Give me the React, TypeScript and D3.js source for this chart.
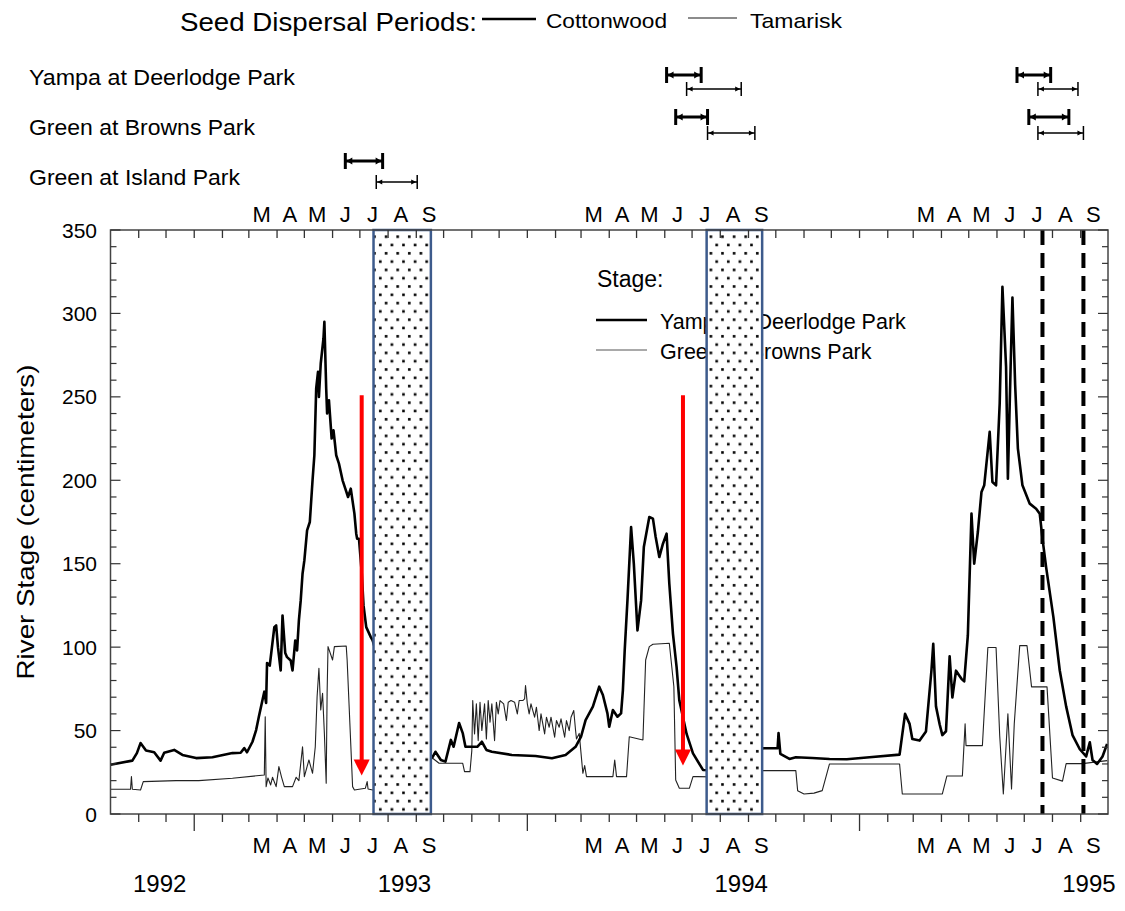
import * as d3 from 'd3';

// water years 1992-1994
const DOMAIN = ['1991-10-01', '1994-10-01'];

// Yampa River at Deerlodge Park stage (cm)
const YAMPA: [string, number][] = [
  ['1991-10-01', 29.5], ['1991-10-25', 32], ['1991-10-30', 36.5], ['1991-11-03', 42.5], ['1991-11-09', 38],
  ['1991-11-18', 37], ['1991-11-25', 32], ['1991-11-29', 36.7], ['1991-12-10', 38.4], ['1991-12-19', 35.4],
  ['1992-01-03', 33.5], ['1992-01-21', 34], ['1992-02-12', 36.5], ['1992-02-21', 36.7], ['1992-02-25', 39.5],
  ['1992-02-28', 37], ['1992-03-05', 43.3], ['1992-03-09', 50.3], ['1992-03-12', 58.3], ['1992-03-16', 68.3],
  ['1992-03-18', 73.3], ['1992-03-20', 66.5], ['1992-03-21', 90.5], ['1992-03-24', 89], ['1992-03-29', 112],
  ['1992-03-31', 113], ['1992-04-02', 100], ['1992-04-05', 86], ['1992-04-07', 119], ['1992-04-10', 96.5],
  ['1992-04-12', 94], ['1992-04-16', 92], ['1992-04-18', 86], ['1992-04-21', 104], ['1992-04-23', 98],
  ['1992-04-25', 116], ['1992-04-27', 128], ['1992-04-29', 144], ['1992-05-01', 152], ['1992-05-04', 170],
  ['1992-05-07', 175], ['1992-05-10', 200], ['1992-05-12', 215], ['1992-05-14', 255], ['1992-05-16', 265],
  ['1992-05-17', 250], ['1992-05-19', 270], ['1992-05-22', 285], ['1992-05-23', 295], ['1992-05-25', 255],
  ['1992-05-26', 240], ['1992-05-28', 248], ['1992-05-31', 225], ['1992-06-02', 230], ['1992-06-05', 215],
  ['1992-06-08', 210], ['1992-06-12', 200], ['1992-06-15', 195], ['1992-06-18', 190], ['1992-06-21', 195],
  ['1992-06-25', 180], ['1992-06-27', 168], ['1992-06-28', 165], ['1992-06-30', 165], ['1992-07-03', 145],
  ['1992-07-05', 125], ['1992-07-08', 112], ['1992-07-13', 106], ['1992-07-15', 104], ['1992-08-15', 45],
  ['1992-09-19', 34.3], ['1992-09-22', 37.3], ['1992-09-28', 32.4], ['1992-10-03', 31.4], ['1992-10-09', 44.4],
  ['1992-10-12', 40.3], ['1992-10-18', 54.5], ['1992-10-22', 48.5], ['1992-10-25', 40.3], ['1992-11-07', 40.3],
  ['1992-11-12', 43.3], ['1992-11-17', 38.4], ['1992-11-23', 37.3], ['1992-12-15', 35.4], ['1993-01-10', 34.8],
  ['1993-01-28', 33.4], ['1993-02-12', 35.4], ['1993-02-23', 40.3], ['1993-03-01', 46.3], ['1993-03-06', 56.3],
  ['1993-03-14', 64.3], ['1993-03-21', 76.3], ['1993-03-25', 71.3], ['1993-03-30', 60.3], ['1993-04-01', 52.3],
  ['1993-04-05', 62.3], ['1993-04-10', 58.3], ['1993-04-14', 60.3], ['1993-04-16', 74.3], ['1993-04-18', 98.3],
  ['1993-04-21', 128], ['1993-04-25', 172], ['1993-04-28', 150], ['1993-05-02', 110], ['1993-05-06', 128],
  ['1993-05-09', 160], ['1993-05-15', 178], ['1993-05-19', 177], ['1993-05-22', 166], ['1993-05-26', 154],
  ['1993-05-30', 162], ['1993-06-03', 168], ['1993-06-06', 138], ['1993-06-10', 108], ['1993-06-14', 88],
  ['1993-06-17', 68], ['1993-06-25', 48], ['1993-07-02', 36.3], ['1993-07-13', 26.4], ['1993-08-15', 26],
  ['1993-09-17', 39.4], ['1993-10-03', 39.4], ['1993-10-04', 48.5], ['1993-10-06', 36], ['1993-10-16', 33],
  ['1993-10-23', 34], ['1993-11-10', 33.6], ['1993-11-29', 33], ['1993-12-18', 32.8], ['1994-01-12', 34],
  ['1994-02-14', 35.6], ['1994-02-20', 60], ['1994-02-25', 54], ['1994-02-28', 45], ['1994-03-08', 44],
  ['1994-03-15', 49.5], ['1994-03-21', 86], ['1994-03-23', 102], ['1994-03-26', 64.5], ['1994-03-30', 53.8],
  ['1994-04-02', 47.3], ['1994-04-06', 49.6], ['1994-04-10', 94.5], ['1994-04-13', 69.8], ['1994-04-17', 85.9],
  ['1994-04-23', 81], ['1994-04-26', 79.5], ['1994-04-30', 107], ['1994-05-04', 180], ['1994-05-07', 150],
  ['1994-05-11', 169], ['1994-05-15', 193], ['1994-05-18', 197], ['1994-05-24', 229], ['1994-05-27', 199],
  ['1994-05-31', 197], ['1994-06-04', 246], ['1994-06-07', 316], ['1994-06-11', 268], ['1994-06-13', 201],
  ['1994-06-16', 268], ['1994-06-18', 309.5], ['1994-06-21', 257], ['1994-06-24', 219], ['1994-06-29', 197],
  ['1994-07-07', 186], ['1994-07-14', 183], ['1994-07-18', 180], ['1994-07-21', 165], ['1994-07-25', 148],
  ['1994-08-02', 118], ['1994-08-09', 86], ['1994-08-16', 64.5], ['1994-08-23', 47.3], ['1994-08-31', 38.8],
  ['1994-09-07', 34.5], ['1994-09-11', 43], ['1994-09-14', 32.4], ['1994-09-19', 30], ['1994-09-25', 34.5],
  ['1994-09-30', 42],
];

// Green River at Browns Park stage (cm)
const GREEN: [string, number][] = [
  ['1991-10-01', 14.8], ['1991-10-23', 14.8], ['1991-10-24', 22.4], ['1991-10-25', 14.8], ['1991-11-03', 14.4],
  ['1991-11-06', 19.4], ['1991-12-12', 20], ['1992-01-06', 20], ['1992-02-12', 21.4], ['1992-03-18', 23.4],
  ['1992-03-19', 58.3], ['1992-03-20', 16.4], ['1992-03-22', 21.6], ['1992-03-25', 17.4], ['1992-03-27', 22],
  ['1992-03-31', 16.4], ['1992-04-03', 28.4], ['1992-04-06', 22], ['1992-04-09', 16.4], ['1992-04-18', 16.4],
  ['1992-04-22', 22], ['1992-04-25', 20], ['1992-04-29', 40.3], ['1992-05-01', 22.4], ['1992-05-06', 32.4],
  ['1992-05-10', 24.4], ['1992-05-13', 40.3], ['1992-05-15', 70.3], ['1992-05-17', 87.3], ['1992-05-19', 62.3],
  ['1992-05-21', 72.3], ['1992-05-23', 48.3], ['1992-05-25', 18.4], ['1992-05-26', 72.3], ['1992-05-27', 100.3],
  ['1992-06-01', 92.3], ['1992-06-03', 100.3], ['1992-06-16', 100.7], ['1992-06-17', 92.3], ['1992-06-23', 16.4],
  ['1992-06-25', 14.4], ['1992-07-07', 15.4], ['1992-07-09', 19.4], ['1992-07-10', 15], ['1992-07-15', 14.4],
  ['1992-08-15', 20], ['1992-09-19', 33.4], ['1992-09-26', 30.4], ['1992-10-22', 30.4], ['1992-10-24', 25.4],
  ['1992-10-30', 25.4], ['1992-11-01', 38], ['1992-11-02', 68], ['1992-11-04', 48], ['1992-11-06', 66],
  ['1992-11-08', 44], ['1992-11-10', 67], ['1992-11-12', 50], ['1992-11-15', 66], ['1992-11-17', 45],
  ['1992-11-19', 68], ['1992-11-21', 55], ['1992-11-23', 66], ['1992-11-26', 44], ['1992-11-28', 67],
  ['1992-11-30', 60], ['1992-12-02', 68], ['1992-12-06', 66], ['1992-12-09', 56], ['1992-12-11', 67],
  ['1992-12-14', 68], ['1992-12-18', 67], ['1992-12-21', 60], ['1992-12-23', 68], ['1992-12-27', 68],
  ['1992-12-29', 69], ['1992-12-30', 77], ['1993-01-01', 66], ['1993-01-03', 60], ['1993-01-05', 66],
  ['1993-01-09', 58], ['1993-01-11', 64], ['1993-01-14', 50], ['1993-01-16', 60], ['1993-01-20', 48],
  ['1993-01-22', 58], ['1993-01-25', 52], ['1993-01-27', 58], ['1993-01-31', 46], ['1993-02-02', 56],
  ['1993-02-05', 52], ['1993-02-07', 57], ['1993-02-11', 46], ['1993-02-13', 56], ['1993-02-16', 50],
  ['1993-02-18', 58], ['1993-02-21', 62], ['1993-02-23', 50], ['1993-02-24', 45], ['1993-02-27', 48.3],
  ['1993-03-03', 24.4], ['1993-03-05', 29], ['1993-03-07', 22.4], ['1993-04-05', 22.4], ['1993-04-07', 32.4],
  ['1993-04-09', 22.4], ['1993-04-20', 22.4], ['1993-04-23', 46.3], ['1993-05-08', 44.4], ['1993-05-11', 92.3],
  ['1993-05-15', 100.3], ['1993-05-19', 101.7], ['1993-06-06', 102.3], ['1993-06-11', 76.3], ['1993-06-13', 20.4],
  ['1993-06-17', 15.4], ['1993-06-28', 15.4], ['1993-07-02', 22.4], ['1993-07-07', 22.4], ['1993-08-15', 22],
  ['1993-09-17', 26], ['1993-10-23', 26], ['1993-10-25', 14], ['1993-11-01', 12], ['1993-11-12', 12.5],
  ['1993-11-21', 14], ['1993-11-29', 30], ['1994-02-14', 30], ['1994-02-17', 12], ['1994-04-02', 12],
  ['1994-04-07', 22.8], ['1994-04-24', 22.8], ['1994-04-27', 54], ['1994-04-28', 41], ['1994-05-16', 41],
  ['1994-05-22', 99.8], ['1994-05-31', 99.8], ['1994-06-04', 47], ['1994-06-08', 12], ['1994-06-13', 60],
  ['1994-06-17', 15], ['1994-06-20', 54], ['1994-06-26', 100.9], ['1994-07-04', 100.9], ['1994-07-09', 76.2],
  ['1994-07-26', 76.2], ['1994-08-01', 21.6], ['1994-08-12', 19.7], ['1994-08-16', 30.2], ['1994-09-03', 30.2],
  ['1994-09-30', 32],
];

const SITES = ['Yampa at Deerlodge Park', 'Green at Browns Park', 'Green at Island Park'];

// seed dispersal periods [site, start, end]
const COTTONWOOD: [string, string, string][] = [
  ['Yampa at Deerlodge Park', '1993-06-03', '1993-07-11'],
  ['Yampa at Deerlodge Park', '1994-06-23', '1994-07-30'],
  ['Green at Browns Park', '1993-06-13', '1993-07-18'],
  ['Green at Browns Park', '1994-07-06', '1994-08-19'],
  ['Green at Island Park', '1992-06-15', '1992-07-26'],
];
const TAMARISK: [string, string, string][] = [
  ['Yampa at Deerlodge Park', '1993-06-25', '1993-08-24'],
  ['Yampa at Deerlodge Park', '1994-07-16', '1994-08-29'],
  ['Green at Browns Park', '1993-07-18', '1993-09-08'],
  ['Green at Browns Park', '1994-07-16', '1994-09-04'],
  ['Green at Island Park', '1992-07-19', '1992-09-02'],
];

const SHADED: [string, string][] = [['1992-07-16', '1992-09-17'], ['1993-07-17', '1993-09-16']];
const ARROWS: [string, number, number][] = [['1992-07-03', 251, 23], ['1993-06-21', 251, 29]];
const DASHED = ['1994-07-21', '1994-09-04'];

const MONTH_LETTERS = ['M', 'A', 'M', 'J', 'J', 'A', 'S'];
const LABEL_YEARS = [1992, 1993, 1994];
const YEAR_LABELS: [string, string][] = [['1992', '1991-11-24'], ['1993', '1992-08-19'], ['1994', '1993-08-24'], ['1995', '1994-09-10']];
const Y_TICKS = d3.range(0, 351, 10);

const FONT = '"Liberation Sans", Arial, sans-serif';
const parse = d3.timeParse('%Y-%m-%d');
const dt = (s: string) => parse(s) as Date;

function Bracket({ x0, x1, y, heavy }: { x0: number; x1: number; y: number; heavy: boolean }) {
  const sw = heavy ? 3 : 1.3;
  const bh = heavy ? 8 : 7;
  const al = heavy ? 6 : 5;
  const aw = heavy ? 3.5 : 2.5;
  return (
    <g stroke="#000" fill="#000">
      <line x1={x0} x2={x1} y1={y} y2={y} strokeWidth={sw} />
      <line x1={x0} x2={x0} y1={y - bh} y2={y + bh} strokeWidth={heavy ? 3 : 1.5} />
      <line x1={x1} x2={x1} y1={y - bh} y2={y + bh} strokeWidth={heavy ? 3 : 1.5} />
      <path stroke="none" d={`M${x0 + 1},${y}L${x0 + 1 + al},${y - aw}L${x0 + 1 + al},${y + aw}Z`} />
      <path stroke="none" d={`M${x1 - 1},${y}L${x1 - 1 - al},${y - aw}L${x1 - 1 - al},${y + aw}Z`} />
    </g>
  );
}

export default function App() {
  const W = 1125, H = 911;
  const m = { left: 110.5, right: 1108, top: 230, bottom: 814 };

  const x = d3.scaleTime().domain([dt(DOMAIN[0]), dt(DOMAIN[1])]).range([m.left, m.right]);
  const y = d3.scaleLinear().domain([0, 350]).range([m.bottom, m.top]);

  const line = d3.line<[string, number]>().x(d => x(dt(d[0]))).y(d => y(d[1]));
  const months = d3.timeMonth.range(d3.timeMonth.offset(x.domain()[0], 1), x.domain()[1]);

  const rowY: Record<string, [number, number]> = {
    'Yampa at Deerlodge Park': [75, 89],
    'Green at Browns Park': [117, 133],
    'Green at Island Park': [161, 182],
  };
  const rowBase = [85, 135, 185];

  const monthLabels = LABEL_YEARS.flatMap(yr =>
    MONTH_LETTERS.map((t, i) => ({ t, cx: x(new Date(yr, i + 2, 15)) })));

  return (
    <svg width={W} height={H} style={{ position: 'absolute', left: 0, top: 0, background: '#fff' }} fontFamily={FONT}>
      <defs>
        <pattern id="dots" width={11.6} height={16.6} patternUnits="userSpaceOnUse">
          <rect width={11.6} height={16.6} fill="#fff" />
          <rect x={2} y={3} width={2.6} height={2.6} fill="#000" />
          <rect x={7.8} y={11.3} width={2.6} height={2.6} fill="#000" />
        </pattern>
        <clipPath id="plot"><rect x={m.left} y={m.top} width={m.right - m.left} height={m.bottom - m.top} /></clipPath>
      </defs>

      {/* seed dispersal legend */}
      <text x={180} y={31} fontSize={25} textLength={297} lengthAdjust="spacingAndGlyphs">Seed Dispersal Periods:</text>
      <line x1={482} x2={536} y1={19} y2={19} stroke="#000" strokeWidth={2.5} />
      <text x={546} y={28} fontSize={21} textLength={121} lengthAdjust="spacingAndGlyphs">Cottonwood</text>
      <line x1={688} x2={737} y1={18} y2={18} stroke="#666" strokeWidth={1.3} />
      <text x={750} y={28} fontSize={21} textLength={92} lengthAdjust="spacingAndGlyphs">Tamarisk</text>

      {SITES.map((s, i) => (
        <text key={s} x={29} y={rowBase[i]} fontSize={22} textLength={i === 0 ? 266 : i === 1 ? 226 : 211} lengthAdjust="spacingAndGlyphs">{s}</text>
      ))}
      {COTTONWOOD.map(([s, a, b], i) => (
        <Bracket key={'c' + i} x0={x(dt(a))} x1={x(dt(b))} y={rowY[s][0]} heavy />
      ))}
      {TAMARISK.map(([s, a, b], i) => (
        <Bracket key={'t' + i} x0={x(dt(a))} x1={x(dt(b))} y={rowY[s][1]} heavy={false} />
      ))}

      {/* month letters */}
      {monthLabels.map((d, i) => (
        <g key={i}>
          <text x={d.cx} y={222} fontSize={22} textAnchor="middle">{d.t}</text>
          <text x={d.cx} y={853} fontSize={22} textAnchor="middle">{d.t}</text>
        </g>
      ))}
      {YEAR_LABELS.map(([t, d]) => (
        <text key={t} x={x(dt(d))} y={892} fontSize={24} textAnchor="middle">{t}</text>
      ))}

      {/* stage legend (partly hidden by the shaded box) */}
      <text x={597} y={287} fontSize={23}>Stage:</text>
      <line x1={596} x2={647} y1={320} y2={320} stroke="#000" strokeWidth={2.4} />
      <text x={660} y={329} fontSize={21.5}>Yampa at Deerlodge Park</text>
      <line x1={596} x2={647} y1={350} y2={350} stroke="#555" strokeWidth={1} />
      <text x={660} y={359} fontSize={21.5}>Green at Browns Park</text>

      {/* series */}
      <g clipPath="url(#plot)" fill="none" strokeLinejoin="round">
        <path d={line(GREEN) ?? ''} stroke="#222" strokeWidth={1.1} />
        <path d={line(YAMPA) ?? ''} stroke="#000" strokeWidth={2.6} />
      </g>

      {/* shaded periods */}
      {SHADED.map(([a, b], i) => (
        <rect key={i} x={x(dt(a))} y={m.top} width={x(dt(b)) - x(dt(a))} height={m.bottom - m.top}
          fill="url(#dots)" stroke="#3d5b8c" strokeWidth={2.5} />
      ))}

      {/* red arrows */}
      {ARROWS.map(([d, v0, v1], i) => {
        const ax = x(dt(d));
        const tip = y(v1);
        return (
          <g key={i} fill="#f00">
            <line x1={ax} x2={ax} y1={y(v0)} y2={tip - 14} stroke="#f00" strokeWidth={4} />
            <path d={`M${ax - 8},${tip - 16}L${ax + 8},${tip - 16}L${ax},${tip}Z`} />
          </g>
        );
      })}

      {/* dashed markers */}
      {DASHED.map(d => (
        <line key={d} x1={x(dt(d))} x2={x(dt(d))} y1={m.top} y2={m.bottom} stroke="#000" strokeWidth={4} strokeDasharray="15,8" />
      ))}

      {/* frame and ticks */}
      <rect x={m.left} y={m.top} width={m.right - m.left} height={m.bottom - m.top} fill="none" stroke="#444" strokeWidth={1.5} />
      {months.map((d, i) => {
        const tx = x(d);
        const jan = d.getMonth() === 0;
        return (
          <g key={i} stroke="#333" strokeWidth={1.3}>
            <line x1={tx} x2={tx} y1={m.bottom} y2={m.bottom + (jan ? 17 : 8)} />
            <line x1={tx} x2={tx} y1={m.top} y2={m.top + 8} />
          </g>
        );
      })}
      {Y_TICKS.map(v => {
        const major = v % 50 === 0;
        return (
          <g key={v} stroke="#333" strokeWidth={1.2}>
            <line x1={m.left} x2={m.left + (major ? 10 : 6)} y1={y(v)} y2={y(v)} />
            <line x1={m.right} x2={m.right - (major ? 10 : 6)} y1={y(v)} y2={y(v)} />
          </g>
        );
      })}
      {Y_TICKS.filter(v => v % 50 === 0).map(v => (
        <text key={v} x={97} y={y(v)} dy="0.36em" fontSize={21} textAnchor="end">{v}</text>
      ))}
      <text transform={`translate(34,${(m.top + m.bottom) / 2}) rotate(-90)`} fontSize={24} textAnchor="middle"
        textLength={315} lengthAdjust="spacingAndGlyphs">River Stage (centimeters)</text>
    </svg>
  );
}
